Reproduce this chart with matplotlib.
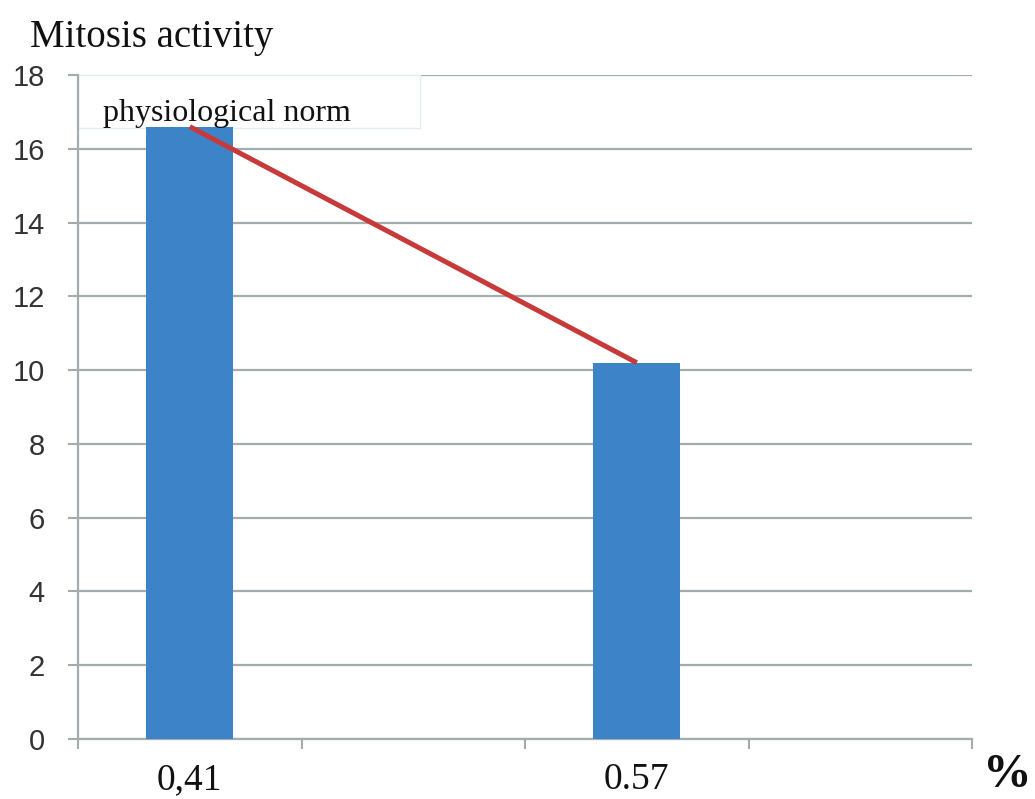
import matplotlib
matplotlib.use("Agg")
import matplotlib.pyplot as plt
from matplotlib.patches import Rectangle
import numpy as np

# Data
categories = ["0,41", "", "0.57", ""]
values = [16.6, np.nan, 10.2, np.nan]
trend_categories = ["0,41", "0.57"]
trend_values = [16.6, 10.2]
yticks = [0, 2, 4, 6, 8, 10, 12, 14, 16, 18]

bar_color = "#3d83c8"
line_color = "#c83a3a"
grid_color = "#a3adad"

fig = plt.figure(figsize=(10.35, 7.99), dpi=100)
ax = fig.add_axes([78/1035, 1-739/799, (972-78)/1035, (739-75)/799])

x = np.arange(len(categories))
ax.bar(x, values, width=0.39, color=bar_color, zorder=3)
tx = [categories.index(c) for c in trend_categories]
ax.plot(tx, trend_values, color=line_color, lw=3.6, zorder=4, solid_capstyle="butt")

ax.set_xlim(-0.5, len(categories) - 0.5)
ax.set_ylim(0, 18)
ax.set_yticks(yticks)
ax.set_yticklabels([str(v) for v in yticks], fontsize=21, family="Liberation Sans", color="#333333")
ax.yaxis.grid(True, color=grid_color, lw=1.6, zorder=0)
ax.tick_params(axis="y", length=7, width=1.5, color=grid_color, pad=17)

ax.set_xticks(x)
ax.set_xticklabels(categories, fontsize=27, family="Liberation Serif", color="#111111")
ax.tick_params(axis="x", which="major", length=0, pad=17)
ax.set_xticks(np.arange(-0.5, len(categories), 1.0), minor=True)
ax.tick_params(axis="x", which="minor", length=7, width=1.5, color=grid_color, direction="out")

for s in ["top", "right"]:
    ax.spines[s].set_visible(False)
for s in ["left", "bottom"]:
    ax.spines[s].set_color(grid_color)
    ax.spines[s].set_linewidth(1.6)

fig.text(30/1035, 1-47/799, "Mitosis activity", fontsize=28, family="Liberation Serif",
         ha="left", va="baseline", color="#111111")
fig.text(1032/1035, 1-787/799, "%", fontsize=35, family="Liberation Serif", weight="bold",
         ha="right", va="baseline", color="#111111")

# white label box covering the top of the plot area
box_w = (420 - 78) / 894
box_y0 = (739 - 128) / 664
ax.add_patch(Rectangle((0, box_y0), box_w, 1.0 - box_y0, transform=ax.transAxes,
                       fc="white", ec="#e6ecec", lw=1, zorder=2.5, clip_on=False))
ax.text((103 - 78) / 894, (739 - 113) / 664, "physiological norm", transform=ax.transAxes,
        fontsize=23, family="Liberation Serif", ha="left", va="center", zorder=5, color="#111111")

fig.savefig("out.png", dpi=100)
